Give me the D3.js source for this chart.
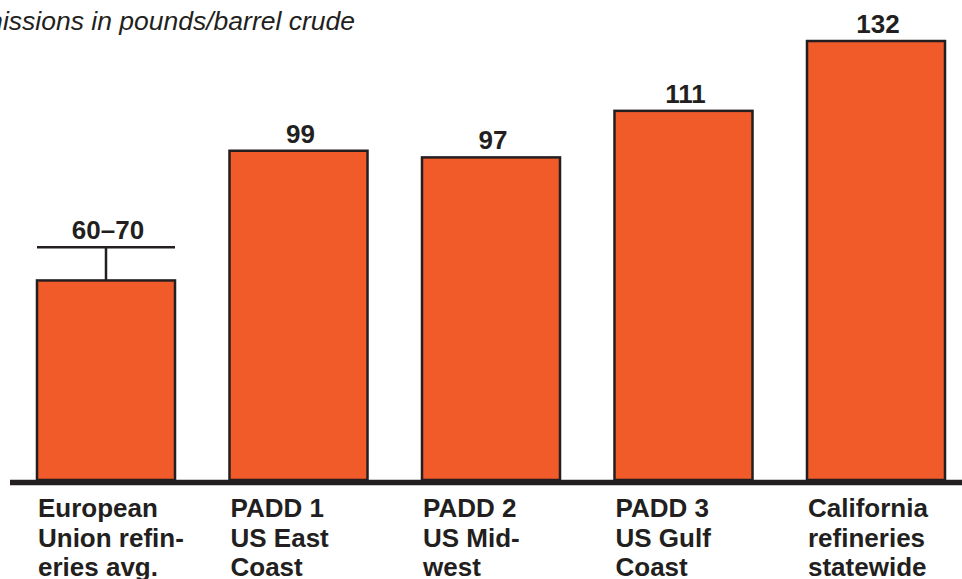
<!DOCTYPE html>
<html>
<head>
<meta charset="utf-8">
<script src="https://cdn.jsdelivr.net/npm/d3@7"></script>
<style>
  html, body { margin: 0; padding: 0; background: #fff; }
  svg { display: block; }
</style>
</head>
<body>
<div id="chart"></div>
<script>
// Refinery emissions, pounds per barrel of crude
const categories = [
  ["European", "Union refin-", "eries avg."],
  ["PADD 1", "US East", "Coast"],
  ["PADD 2", "US Mid-", "west"],
  ["PADD 3", "US Gulf", "Coast"],
  ["California", "refineries", "statewide"]
];
const values = [60, 99, 97, 111, 132];
const rangeHigh = [70, null, null, null, null];
const valueLabels = ["60–70", "99", "97", "111", "132"];
const title = "Emissions in pounds/barrel crude";

const W = 962, H = 579;
const baseY = 480;
const svg = d3.select("#chart").append("svg").attr("width", W).attr("height", H);

const x = d3.scaleBand()
  .domain(d3.range(categories.length))
  .range([9.75, 972.25])
  .paddingInner(0.283)
  .paddingOuter(0.1415);

const y = d3.scaleLinear().domain([0, 132]).range([baseY, 41]);

const ink = "#231f20";
const font = "Liberation Sans, Arial, Helvetica, sans-serif";

// title
svg.append("text")
  .attr("x", 355).attr("y", 30)
  .attr("text-anchor", "end")
  .attr("font-family", font)
  .attr("font-style", "italic")
  .attr("font-size", 26.5)
  .attr("fill", ink)
  .text(title);

// bars
svg.selectAll("rect.bar").data(values).join("rect")
  .attr("class", "bar")
  .attr("x", (d, i) => x(i))
  .attr("y", d => y(d))
  .attr("width", x.bandwidth())
  .attr("height", d => baseY - y(d))
  .attr("fill", "#f15a29")
  .attr("stroke", ink)
  .attr("stroke-width", 2.5);

// range whisker
const rangeData = values.map((v, i) => ({ i, v, hi: rangeHigh[i] })).filter(d => d.hi != null);
const rg = svg.selectAll("g.range").data(rangeData).join("g").attr("class", "range");
rg.append("line")
  .attr("x1", d => x(d.i)).attr("x2", d => x(d.i) + x.bandwidth())
  .attr("y1", d => y(d.hi)).attr("y2", d => y(d.hi))
  .attr("stroke", ink).attr("stroke-width", 2.5);
rg.append("line")
  .attr("x1", d => x(d.i) + x.bandwidth() / 2).attr("x2", d => x(d.i) + x.bandwidth() / 2)
  .attr("y1", d => y(d.hi)).attr("y2", d => y(d.v))
  .attr("stroke", ink).attr("stroke-width", 2.5);

// value labels
svg.selectAll("text.val").data(values).join("text")
  .attr("class", "val")
  .attr("x", (d, i) => x(i) + x.bandwidth() / 2 + 2)
  .attr("y", (d, i) => y(rangeHigh[i] != null ? rangeHigh[i] : d) - 8)
  .attr("text-anchor", "middle")
  .attr("font-family", font)
  .attr("font-weight", "bold")
  .attr("font-size", 26)
  .attr("fill", ink)
  .text((d, i) => valueLabels[i]);

// baseline
svg.append("line")
  .attr("x1", 10).attr("x2", W)
  .attr("y1", baseY + 2.5).attr("y2", baseY + 2.5)
  .attr("stroke", ink).attr("stroke-width", 5.5);

// category labels
const cat = svg.selectAll("text.cat").data(categories).join("text")
  .attr("class", "cat")
  .attr("x", (d, i) => x(i) + 1)
  .attr("y", 517)
  .attr("font-family", font)
  .attr("font-weight", "bold")
  .attr("font-size", 26)
  .attr("fill", ink);
cat.selectAll("tspan").data(d => d).join("tspan")
  .attr("x", function () { return d3.select(this.parentNode).attr("x"); })
  .attr("dy", (d, j) => j === 0 ? 0 : 29.5)
  .text(d => d);
</script>
</body>
</html>
